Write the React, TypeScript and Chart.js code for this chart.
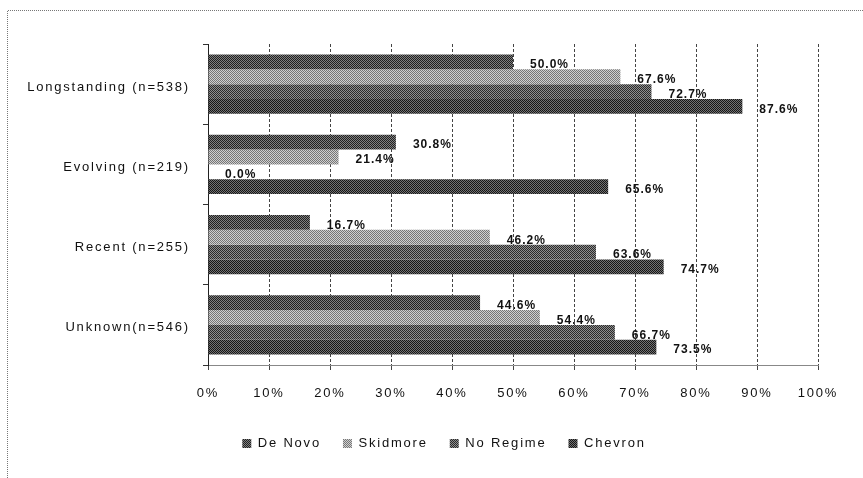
import React, { useEffect, useRef } from 'react';
import { Chart, registerables } from 'chart.js';

Chart.register(...registerables);

const categories = ['Longstanding (n=538)', 'Evolving (n=219)', 'Recent (n=255)', 'Unknown(n=546)'];
const seriesNames = ['De Novo', 'Skidmore', 'No Regime', 'Chevron'];
const deNovo = [50.0, 30.8, 16.7, 44.6];
const skidmore = [67.6, 21.4, 46.2, 54.4];
const noRegime = [72.7, 0.0, 63.6, 66.7];
const chevron = [87.6, 65.6, 74.7, 73.5];
const xMin = 0;
const xMax = 100;
const xStep = 10;

const FONT = '"Liberation Sans", Arial, Helvetica, sans-serif';
const LEGEND_CENTER_X = 444;

function makePattern(base: string, dot: string): CanvasPattern | string {
  const c = document.createElement('canvas');
  c.width = 2;
  c.height = 2;
  const g = c.getContext('2d');
  if (!g) return base;
  g.fillStyle = base;
  g.fillRect(0, 0, 2, 2);
  g.fillStyle = dot;
  g.fillRect(0, 0, 1, 1);
  g.fillRect(1, 1, 1, 1);
  return g.createPattern(c, 'repeat') || base;
}

const spacingPlugin = {
  id: 'spacing',
  beforeLayout(chart: any) {
    (chart.ctx as any).letterSpacing = '1.8px';
  },
  afterLayout(chart: any) {
    const lg = chart.legend;
    if (lg) {
      const shift = LEGEND_CENTER_X - (lg.left + lg.right) / 2;
      lg.left += shift;
      lg.right += shift;
    }
  },
  beforeDraw(chart: any) {
    (chart.ctx as any).letterSpacing = '1.8px';
  },
};

const framePlugin = {
  id: 'frame',
  beforeDraw(chart: any) {
    const ctx = chart.ctx;
    ctx.save();
    ctx.strokeStyle = '#777';
    ctx.lineWidth = 1;
    ctx.setLineDash([1, 1]);
    ctx.beginPath();
    ctx.moveTo(7.5, 478);
    ctx.lineTo(7.5, 10.5);
    ctx.lineTo(863, 10.5);
    ctx.stroke();
    ctx.restore();
  },
};

const valueLabelPlugin = {
  id: 'valueLabels',
  afterDatasetsDraw(chart: any) {
    const ctx = chart.ctx;
    ctx.save();
    ctx.font = 'bold 12px ' + FONT;
    (ctx as any).letterSpacing = '1px';
    ctx.fillStyle = '#111';
    ctx.textAlign = 'left';
    ctx.textBaseline = 'middle';
    chart.data.datasets.forEach((ds: any, i: number) => {
      const meta = chart.getDatasetMeta(i);
      meta.data.forEach((bar: any, j: number) => {
        const v = Number(ds.data[j]);
        ctx.fillText(v.toFixed(1) + '%', bar.x + 17, bar.y + 3);
      });
    });
    ctx.restore();
  },
};

export default function App() {
  const ref = useRef<HTMLCanvasElement | null>(null);

  useEffect(() => {
    document.body.style.margin = '0';
    const canvas = ref.current;
    if (!canvas) return;
    const fills = [
      makePattern('#808080', '#202020'),
      makePattern('#d0d0d0', '#767676'),
      makePattern('#8e8e8e', '#2a2a2a'),
      makePattern('#727272', '#161616'),
    ];
    const values = [deNovo, skidmore, noRegime, chevron];
    const chart = new Chart(canvas, {
      type: 'bar',
      data: {
        labels: categories,
        datasets: seriesNames.map((name, i) => ({
          label: name,
          data: values[i],
          backgroundColor: fills[i] as any,
          borderWidth: 0,
          barPercentage: 1,
          categoryPercentage: 0.74,
        })),
      },
      options: {
        indexAxis: 'y',
        responsive: false,
        animation: false,
        layout: { padding: { left: 9, right: 45, top: 44, bottom: 18 } },
        font: { family: FONT },
        plugins: {
          legend: {
            position: 'bottom',
            labels: {
              boxWidth: 9,
              boxHeight: 9,
              padding: 22,
              color: '#111',
              font: { family: FONT, size: 13 },
            },
          },
          tooltip: { enabled: false },
        },
        scales: {
          x: {
            min: xMin,
            max: xMax,
            ticks: {
              stepSize: xStep,
              color: '#111',
              padding: 16,
              font: { family: FONT, size: 13 },
              callback: (v: any) => v + '%',
            },
            grid: {
              color: '#444',
              lineWidth: 1,
              drawTicks: true,
              tickLength: 5,
              tickColor: '#444',
              tickBorderDash: [],
            },
            border: { display: true, color: '#888', width: 1, dash: [3, 2] },
            afterFit: (scale: any) => {
              scale.height = 50;
            },
          },
          y: {
            ticks: {
              color: '#111',
              padding: 13,
              labelOffset: 3,
              font: { family: FONT, size: 13 },
            },
            grid: {
              display: true,
              drawOnChartArea: false,
              drawTicks: true,
              tickLength: 5,
              color: '#333',
            },
            border: { display: true, color: '#222', width: 1 },
            afterFit: (scale: any) => {
              scale.width = 199;
            },
          },
        },
      },
      plugins: [spacingPlugin, framePlugin, valueLabelPlugin],
    } as any);
    return () => chart.destroy();
  }, []);

  return (
    <div style={{ position: 'absolute', left: 0, top: 0, width: 863, height: 478, background: '#fff' }}>
      <canvas ref={ref} width={863} height={478} />
    </div>
  );
}
